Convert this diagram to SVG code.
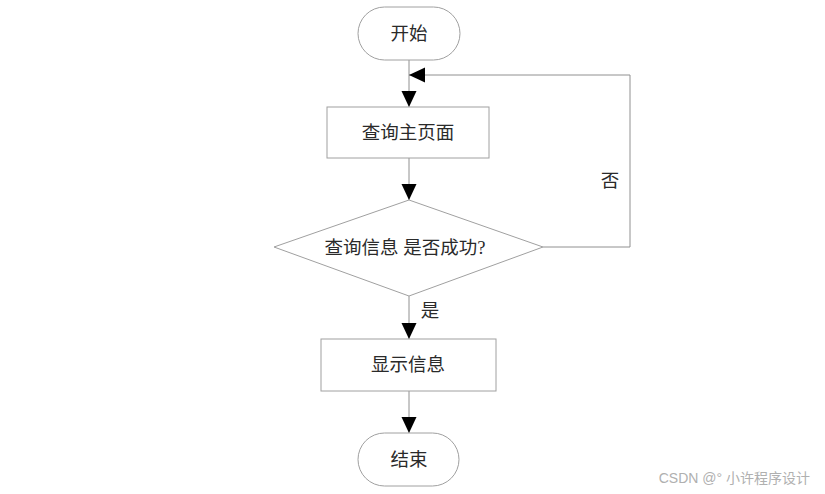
<svg xmlns="http://www.w3.org/2000/svg" width="825" height="494" viewBox="0 0 825 494">
<style>
.shape{fill:#fff;stroke:#a0a0a0;stroke-width:1}
.line{fill:none;stroke:#909090;stroke-width:1}
.t{font-family:"Liberation Serif","Noto Sans CJK SC",serif;font-size:18.5px;fill:#2a2a2a;text-anchor:middle;dominant-baseline:central}
.wm{font-family:"Liberation Sans","Noto Sans CJK SC",sans-serif;font-size:14px;fill:#b0b0b0;text-anchor:end;dominant-baseline:central}
</style>
<defs>
<marker id="ah" markerWidth="16" markerHeight="18" refX="17" refY="8" orient="auto" markerUnits="userSpaceOnUse" viewBox="0 0 17 16">
<path d="M0,0 L17,8 L0,16 Z" fill="#000"/>
</marker>
</defs>
<rect width="825" height="494" fill="#fff"/>
<g id="connectors">
<line class="line" x1="409" y1="60" x2="409" y2="107" marker-end="url(#ah)"/>
<polyline class="line" points="543,247 630,247 630,75 409,75" marker-end="url(#ah)"/>
<line class="line" x1="409" y1="158" x2="409" y2="200" marker-end="url(#ah)"/>
<line class="line" x1="409" y1="296" x2="409" y2="339" marker-end="url(#ah)"/>
<line class="line" x1="409" y1="391" x2="409" y2="433" marker-end="url(#ah)"/>
<text class="t" x="610" y="181">否</text>
<text class="t" x="430" y="311">是</text>
</g>
<g id="start">
<rect class="shape" x="358" y="7" width="102" height="53" rx="26.5"/>
<text class="t" x="409" y="34">开始</text>
</g>
<g id="query">
<rect class="shape" x="327" y="107" width="162" height="51"/>
<text class="t" x="408" y="133">查询主页面</text>
</g>
<g id="decision">
<polygon class="shape" points="409,200 543,247 409,296 274,247"/>
<text class="t" x="405" y="248">查询信息 是否成功?</text>
</g>
<g id="show">
<rect class="shape" x="321" y="339" width="175" height="52"/>
<text class="t" x="408" y="365">显示信息</text>
</g>
<g id="end">
<rect class="shape" x="358" y="433" width="101" height="53" rx="26.5"/>
<text class="t" x="409" y="460">结束</text>
</g>
<text class="wm" x="810" y="478">CSDN @° 小许程序设计</text>
</svg>
